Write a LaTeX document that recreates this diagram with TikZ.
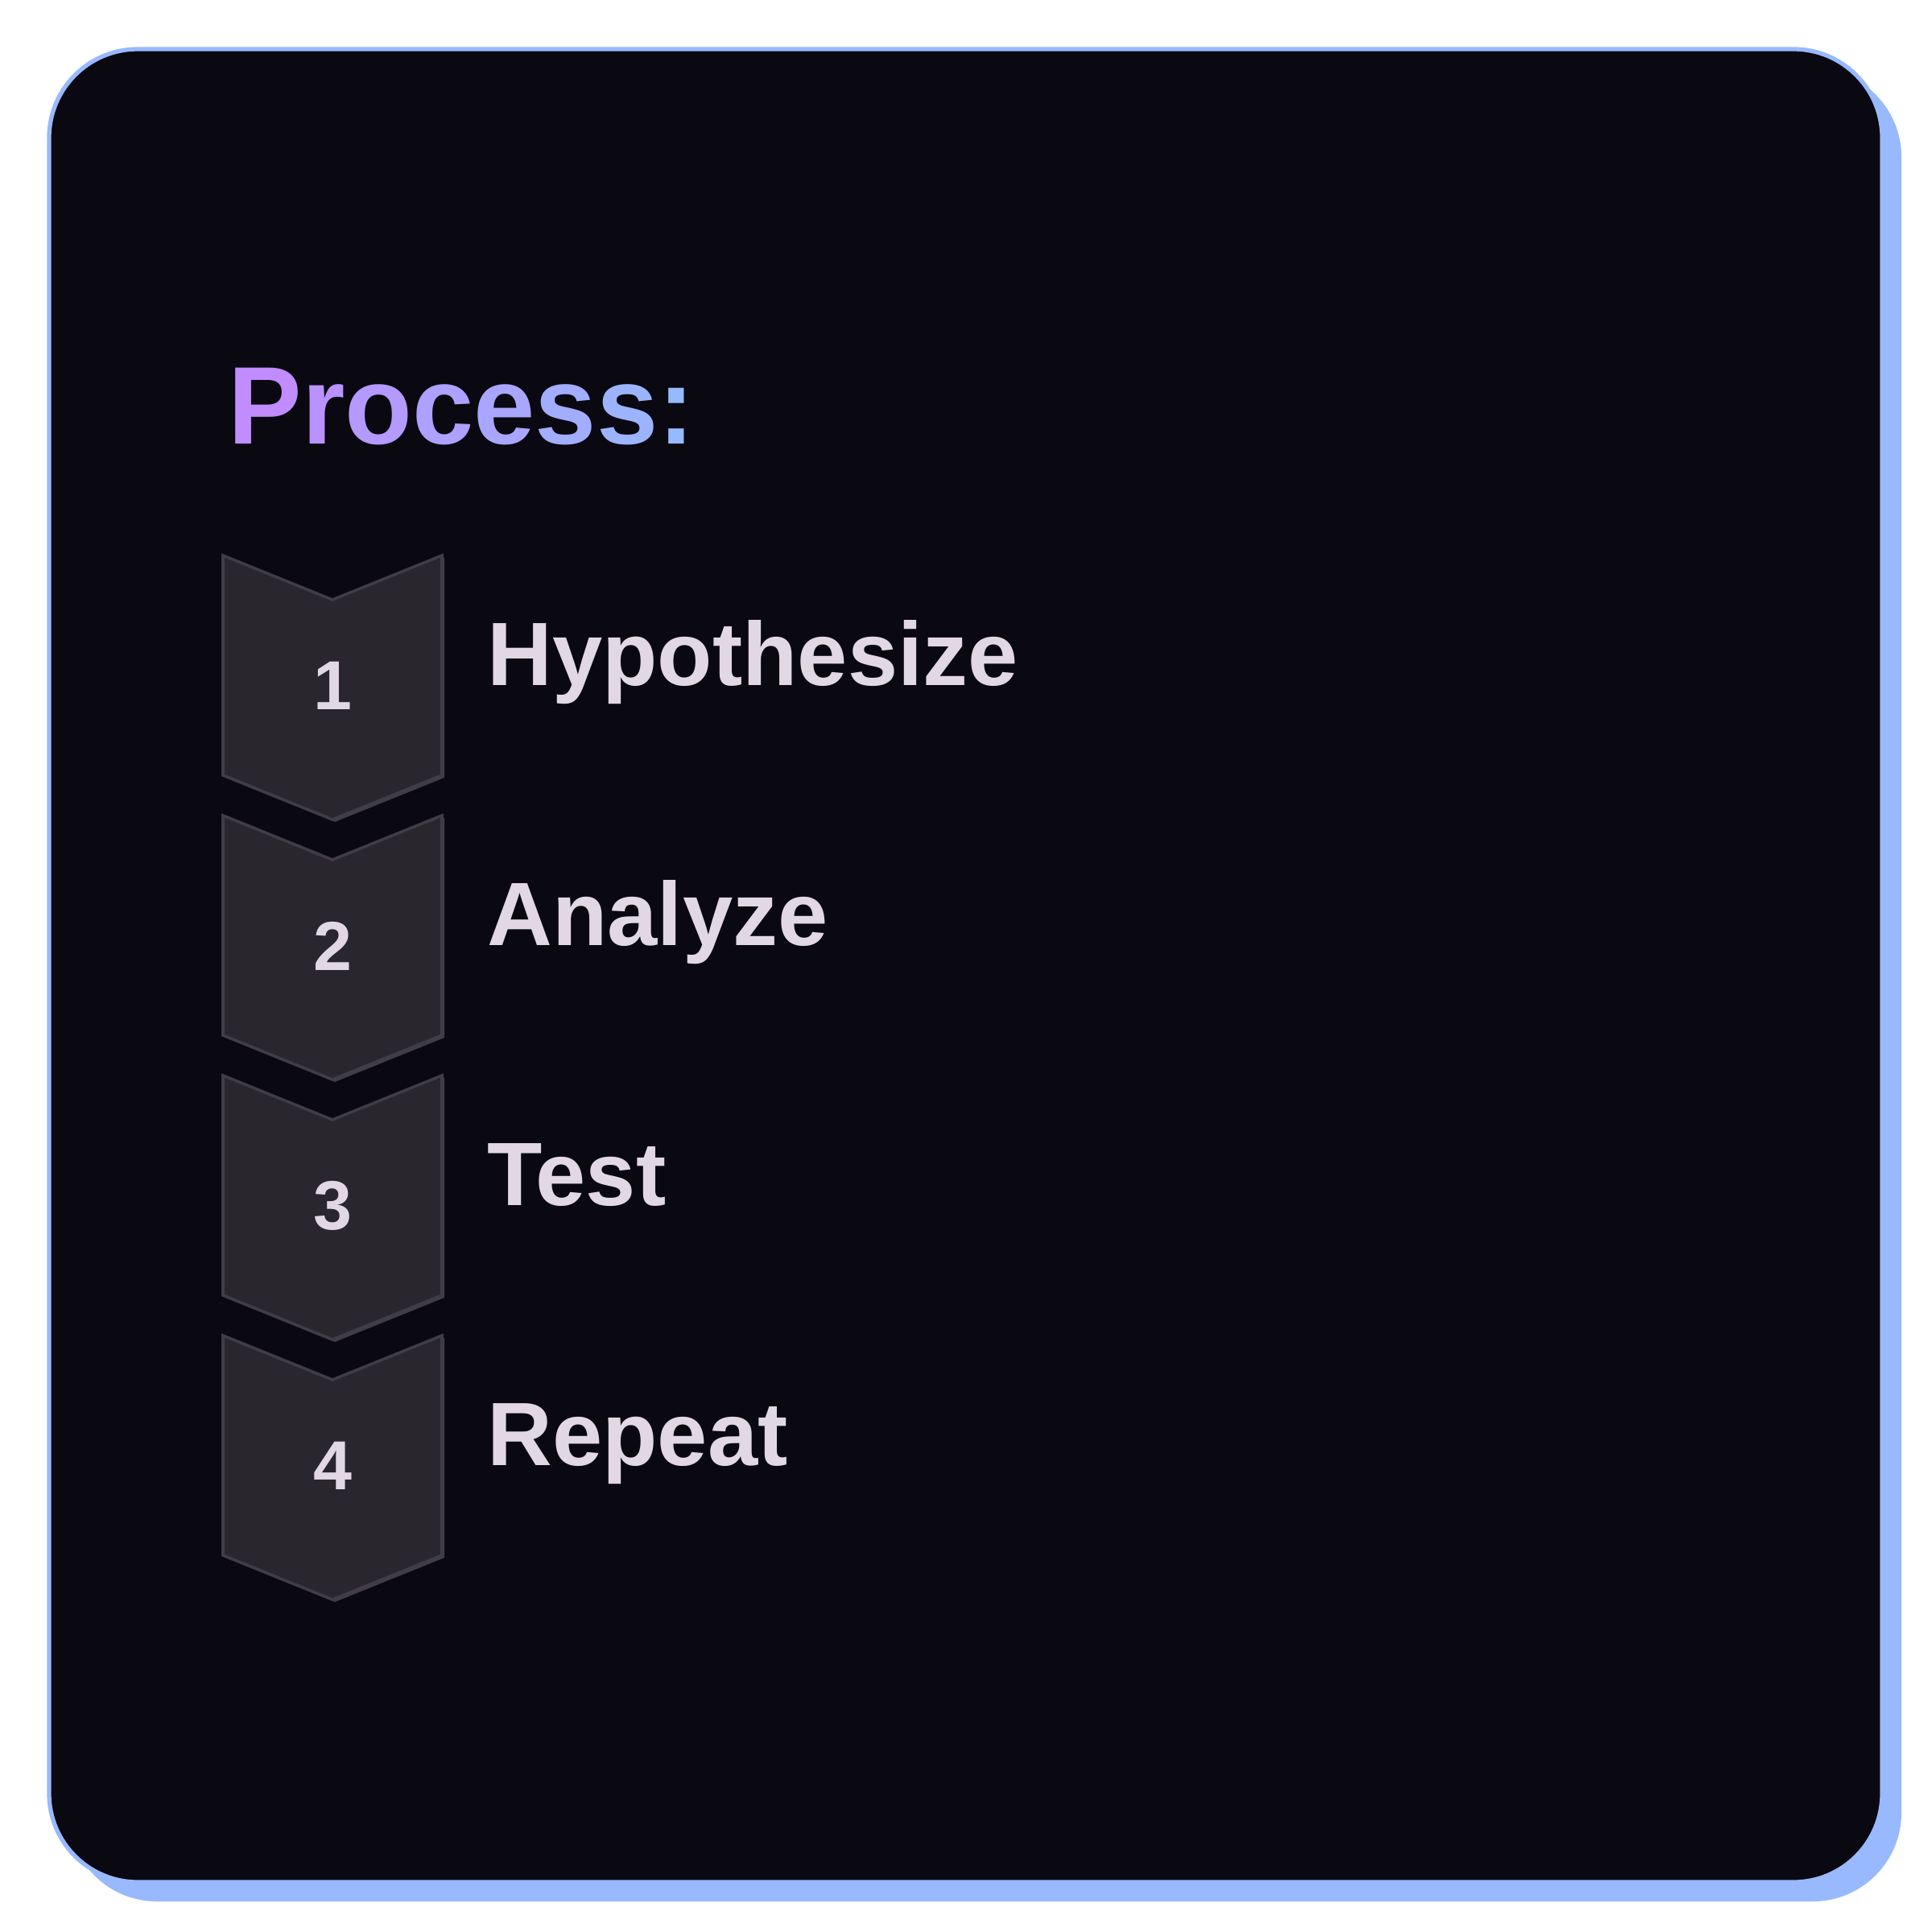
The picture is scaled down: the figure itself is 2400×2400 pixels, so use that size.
\documentclass[tikz,border=0pt]{standalone}
\usepackage{fontspec}
\setmainfont{Liberation Sans}
\definecolor{cardbg}{RGB}{10,8,16}
\definecolor{cardblue}{RGB}{152,185,254}
\definecolor{chevfill}{RGB}{41,38,46}
\definecolor{chevedge}{RGB}{64,61,70}
\definecolor{steptext}{RGB}{226,216,228}
\definecolor{procA}{RGB}{192,140,255}
\definecolor{procB}{RGB}{150,186,254}
\tikzset{
  chevron/.style = {fill=chevfill, draw=chevedge, line width=1pt, line join=miter},
  chevshade/.style = {fill=chevedge},
  stepnum/.style = {text=steptext, font=\bfseries\fontsize{24.5}{24.5}\selectfont, inner sep=0pt},
  steplabel/.style = {text=steptext, font=\bfseries\fontsize{31.8}{31.8}\selectfont, anchor=base west, inner sep=0pt}
}

\begin{document}
\begin{tikzpicture}[x=0.01cm, y=-0.01cm]
\useasboundingbox [fill=white] (0,0) rectangle (2400,2400);
% card with offset shadow
\fill [cardblue, rounded corners=1.1cm] (85,85) rectangle (2362,2362);
\draw [cardblue, fill=cardbg, line width=1.5pt, rounded corners=1.1cm] (61,61) rectangle (2338,2338);
% title, coloured letter by letter
\node [anchor=base west, inner sep=0pt, font=\bfseries\fontsize{39}{39}\selectfont] (title) at (283,551)
  {\textcolor{procA}{P}\textcolor{procB!14!procA}{r}\textcolor{procB!29!procA}{o}\textcolor{procB!43!procA}{c}\textcolor{procB!57!procA}{e}\textcolor{procB!71!procA}{s}\textcolor{procB!86!procA}{s}\textcolor{procB}{:}};
% steps
\foreach \i/\txt in {1/Hypothesize, 2/Analyze, 3/Test, 4/Repeat} {
  \pgfmathsetmacro{\top}{690+323*(\i-1)}
  \fill [chevshade] (280,\top+3) -- (416,\top+58) -- (552,\top+3) -- (552,\top+276) -- (416,\top+331) -- (280,\top+276) -- cycle;
  \draw [chevron] (277,\top) -- (413,\top+55) -- (549,\top) -- (549,\top+273) -- (413,\top+328) -- (277,\top+273) -- cycle;
  \node [stepnum] (num\i) at (413,\top+162) {\i};
  \node [steplabel] (lbl\i) at (605,\top+161) {\txt};
}
\end{tikzpicture}
\end{document}
